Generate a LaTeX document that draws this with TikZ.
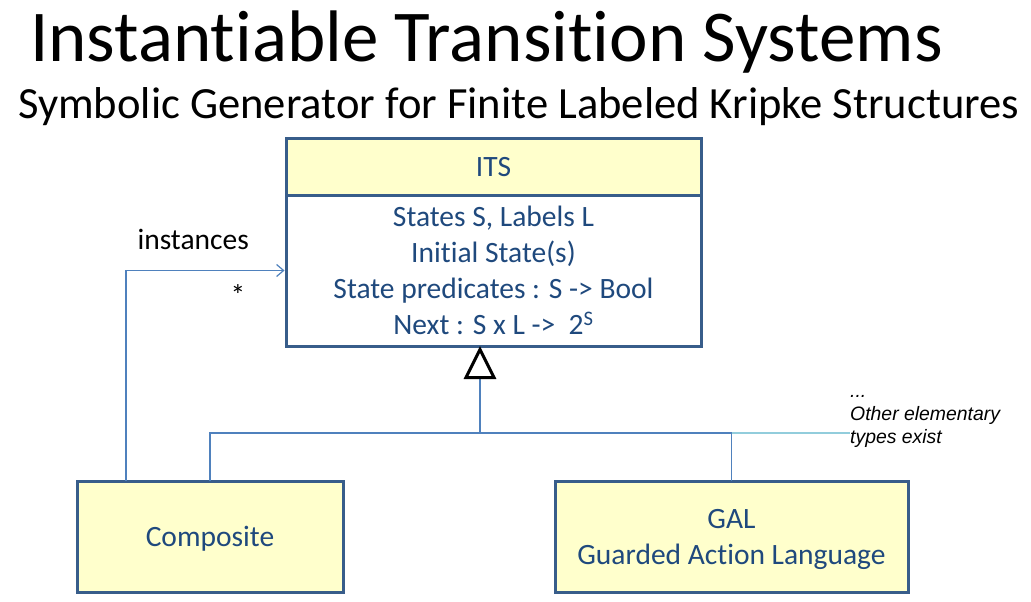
\documentclass[tikz,border=0pt]{standalone}
\usepackage{fontspec}
\setmainfont{Carlito}[Ligatures=NoCommon]
\newfontfamily\notefont{Liberation Sans}
\usetikzlibrary{arrows.meta,positioning}
\definecolor{boxline}{RGB}{56,93,138}
\definecolor{boxfill}{RGB}{255,255,204}
\definecolor{textblue}{RGB}{31,73,125}
\definecolor{linkblue}{RGB}{79,129,189}
\definecolor{hintblue}{RGB}{146,205,220}

\begin{document}
\begin{tikzpicture}[
  x=1pt,y=-1pt,
  cls/.style={draw=boxline,line width=3pt,fill=boxfill,text=textblue,align=center,font=\fontsize{29.5}{36}\selectfont,inner sep=0pt,outer sep=0pt,text depth=0pt},
  link/.style={draw=linkblue,line width=1.2pt},
  gen/.style={link,-{Triangle[fill=white,color=black,line width=3pt,length=33pt,width=32pt]}},
  inst/.style={link,-{Straight Barb[length=7pt,width=12pt]},shorten >=1.5pt},
  hint/.style={draw=hintblue,line width=1.2pt},
  tag/.style={text=black,inner sep=0pt,font=\fontsize{29.5}{36}\selectfont}
]
\useasboundingbox (0,0) rectangle (1031,602);

\node[anchor=base west,inner sep=0pt,font=\fontsize{73}{80}\selectfont] (title) at (30,62) {Instantiable Transition Systems};
\node[anchor=base west,inner sep=0pt,font=\fontsize{44.6}{50}\selectfont] (subtitle) at (18,118) {Symbolic Generator for Finite Labeled Kripke Structures};

\node[cls,minimum width=415pt,minimum height=57pt] (its) at (493.5,166.5) {ITS};
\node[cls,fill=white,minimum width=415pt,minimum height=151pt,below=0pt of its] (itsbody) {States S, Labels L\\Initial State(s)\\State predicates : S -> Bool\\Next : S x L ->~~2\textsuperscript{S}};
\node[cls,minimum width=266pt,minimum height=111pt] (composite) at (210,536.5) {Composite};
\node[cls,minimum width=353pt,minimum height=111pt] (gal) at (731.5,536.5) {GAL\\Guarded Action Language};
\node[anchor=north west,align=left,inner sep=0pt,font=\notefont\itshape\fontsize{19.4}{23}\selectfont] (note) at (850,395) {...\\Other elementary\\types exist};

\coordinate (junc) at (480,433);
\coordinate (instfoot) at (126,481);

\draw[link] (composite.north) |- (junc) -| (gal.north);
\draw[gen] (junc) -- (junc |- itsbody.south);
\draw[hint] (gal.north |- junc) -- (junc -| note.west);
\draw[inst] (instfoot) |- (itsbody.west)
  node[tag,pos=.71,above=20pt] {instances}
  node[tag,pos=.85,below=13pt] {*};
\end{tikzpicture}
\end{document}
